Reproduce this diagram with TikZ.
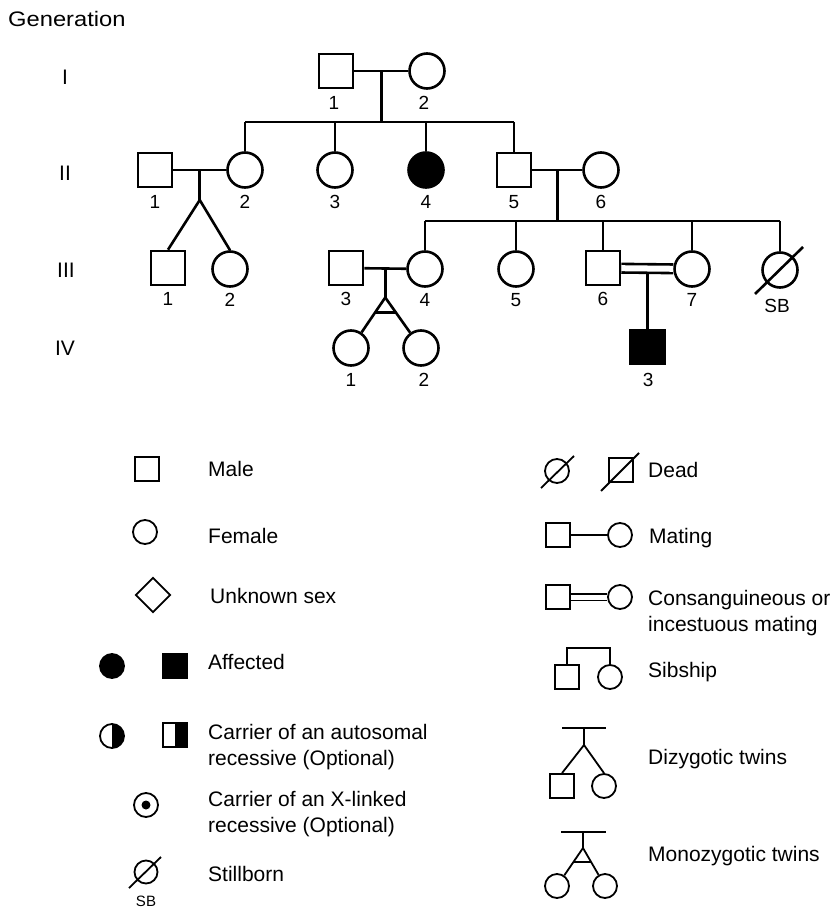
\documentclass[tikz,border=0pt]{standalone}
\usepackage{fontspec}
\setmainfont{Liberation Sans}
\newfontfamily\widefont[FakeStretch=1.13]{Liberation Sans}
\usetikzlibrary{calc,shapes.geometric}
\begin{document}
\begin{tikzpicture}[x=1pt,y=-1pt,
  ped/.style={line width=2.6pt},
  leg/.style={line width=1.8pt},
  numlab/.style={inner sep=0pt,font=\fontsize{19}{19}\selectfont},
  msq/.style={draw,rectangle,line width=2.6pt,minimum size=34pt,inner sep=0pt},
  fci/.style={draw,circle,line width=2.6pt,minimum size=35pt,inner sep=0pt},
  lsq/.style={draw,rectangle,line width=1.8pt,minimum size=24pt,inner sep=0pt},
  lci/.style={draw,circle,line width=1.8pt,minimum size=24pt,inner sep=0pt},
  halfblack/.style={path picture={\fill[black] (path picture bounding box.north) rectangle (path picture bounding box.south east);}},
  txt/.style={anchor=base west,inner sep=0pt,font=\fontsize{21}{24}\selectfont},
  gen/.style={anchor=base,inner sep=0pt,font=\fontsize{21}{24}\selectfont}]
\useasboundingbox (0,0) rectangle (835,909);
\fill[white] (0,0) rectangle (835,909);

% generation labels
\node[anchor=base west,inner sep=0pt,font=\widefont\fontsize{21}{24}\selectfont] (gentitle) at (8,27) {Generation};
\node[gen] (gI) at (65,85) {I};
\node[gen] (gII) at (65,181) {II};
\node[gen] (gIII) at (66,277) {III};
\node[gen] (gIV) at (65,355) {IV};

% generation I
\node[msq] (I1) at (336,71) {};
\node[fci] (I2) at (427,71) {};
\node[numlab] (I1n) at ($(I1)+(-2,32)$) {1};
\node[numlab] (I2n) at ($(I2)+(-3,32)$) {2};
\draw[ped] (I1) -- (I2);
\coordinate (m1) at ($(I1.east)!0.5!(I2.west)$);
\coordinate (s1) at ($(m1)+(0,51)$);

% generation II
\node[msq] (II1) at (155,170) {};
\node[fci] (II2) at (245,170) {};
\node[fci] (II3) at (335,170) {};
\node[fci,fill=black] (II4) at (426,170) {};
\node[msq] (II5) at (514,170) {};
\node[fci] (II6) at (601,170) {};
\foreach \n/\t in {II1/1,II2/2,II3/3,II4/4,II5/5,II6/6}
  \node[numlab] (\n n) at ($(\n)+(0,32)$) {\t};
\draw[ped] (m1) -- (s1);
\draw[ped] (II2.north |- s1) -- (II5.north |- s1);
\foreach \n in {II2,II3,II4,II5} \draw[ped] (\n.north |- s1) -- (\n.north);
\draw[ped] (II1) -- (II2);
\draw[ped] (II5) -- (II6);
\coordinate (m2) at ($(II1.east)!0.5!(II2.west)$);
\coordinate (a2) at ($(m2)+(0,30)$);
\coordinate (m3) at ($(II5.east)!0.5!(II6.west)$);
\coordinate (s3) at ($(m3)+(0,51)$);

% generation III
\node[msq] (III1) at (168,268) {};
\node[fci] (III2) at (230,269) {};
\node[msq] (III3) at (346,268) {};
\node[fci] (III4) at (425,269) {};
\node[fci] (III5) at (516,269) {};
\node[msq] (III6) at (603,268) {};
\node[fci] (III7) at (692,269) {};
\node[fci] (SB) at (780,270) {};
\foreach \n/\t in {III1/1,III2/2,III3/3,III4/4,III5/5,III6/6,III7/7}
  \node[numlab] (\n n) at ($(\n)+(0,31)$) {\t};
\node[numlab] (SBn) at ($(SB)+(-3,36)$) {SB};
\coordinate (sbA) at ($(SB)+(-25,24)$);
\coordinate (sbB) at ($(SB)+(23,-23)$);
\draw[ped] (sbA) -- (sbB);

\draw[ped] (m2) -- (a2);
\draw[ped] (a2) -- (III1.north);
\draw[ped] (a2) -- (III2.north);
\draw[ped] (m3) -- (s3);
\draw[ped] (III4.north |- s3) -- (SB.north |- s3);
\foreach \n in {III4,III5,III6,III7,SB} \draw[ped] (\n.north |- s3) -- (\n.north);
\draw[ped] (III3) -- (III4);
\draw[ped,double,double distance=6pt] (III6) -- (III7);
\coordinate (m4) at ($(III3.east)!0.5!(III4.west)$);
\coordinate (a4) at ($(m4)+(0,29)$);
\coordinate (m5) at ($(III6.east)!0.5!(III7.west)$);
\coordinate (m5b) at ($(m5)+(0,5.5)$);

% generation IV
\node[fci] (IV1) at (351,348) {};
\node[fci] (IV2) at (421,348) {};
\node[msq,fill=black] (IV3) at ($(m5)+(0,78.5)$) {};
\node[numlab] (IV1n) at ($(IV1)+(0,32)$) {1};
\node[numlab] (IV2n) at ($(IV2)+(3,32)$) {2};
\node[numlab] (IV3n) at ($(IV3)+(1,33)$) {3};
\draw[ped] (m4) -- (a4);
\draw[ped] (a4) -- (IV1);
\draw[ped] (a4) -- (IV2);
\draw[ped] ($(a4)!0.3!(IV1)$) -- ($(a4)!0.3!(IV2)$);
\draw[ped] (m5b) -- (IV3);

% ---------------- legend, left column
\node[lsq] (LMale) at (147,469) {};
\node[txt] (tMale) at (208,476) {Male};
\node[lci] (LFem) at (145,532) {};
\node[txt] (tFem) at (208,543) {Female};
\node[draw,diamond,line width=1.8pt,minimum size=35pt,inner sep=0pt] (LUnk) at (153,595) {};
\node[txt] (tUnk) at (210,603) {Unknown sex};
\node[lci,fill=black] (LAffC) at (112,666) {};
\node[lsq,fill=black] (LAffS) at (175,666) {};
\node[txt] (tAff) at (208,669) {Affected};
\node[lci,halfblack] (LCarC) at (112,736) {};
\node[lsq,halfblack] (LCarS) at (175,735) {};
\node[txt] (tCar1) at (208,739) {Carrier of an autosomal};
\node[txt] (tCar2) at (208,765) {recessive (Optional)};
\node[lci] (LX) at (146,805) {};
\node[circle,fill=black,minimum size=9pt,inner sep=0pt] (LXdot) at (LX) {};
\node[txt] (tX1) at (208,806) {Carrier of an X-linked};
\node[txt] (tX2) at (208,832) {recessive (Optional)};
\node[lci,minimum size=23pt] (LSB) at (146,872) {};
\node[inner sep=0pt,font=\fontsize{15}{15}\selectfont] (LSBn) at ($(LSB)+(0,29)$) {SB};
\coordinate (lsbA) at ($(LSB)+(-17,16)$);
\coordinate (lsbB) at ($(LSB)+(15,-15)$);
\draw[leg] (lsbA) -- (lsbB);
\node[txt] (tSB) at (208,881) {Stillborn};

% ---------------- legend, right column
\node[lci] (LDeadC) at (557,471) {};
\coordinate (ldA) at ($(LDeadC)+(-16,17)$);
\coordinate (ldB) at ($(LDeadC)+(17,-15)$);
\draw[leg] (ldA) -- (ldB);
\node[lsq] (LDeadS) at (621,470) {};
\coordinate (ldC) at ($(LDeadS)+(-20,21)$);
\coordinate (ldD) at ($(LDeadS)+(18,-17)$);
\draw[leg] (ldC) -- (ldD);
\node[txt] (tDead) at (648,477) {Dead};

\node[lsq] (LMatS) at (558,535) {};
\node[lci] (LMatC) at (620,535) {};
\draw[leg] (LMatS) -- (LMatC);
\node[txt] (tMat) at (649,543) {Mating};

\node[lsq] (LConS) at (558,597) {};
\node[lci] (LConC) at (620,597) {};
\draw[leg,double,double distance=5pt] (LConS) -- (LConC);
\node[txt] (tCon1) at (648,605) {Consanguineous or};
\node[txt] (tCon2) at (648,631) {incestuous mating};

\node[lsq] (LSibS) at (567,677) {};
\node[lci] (LSibC) at (610,677) {};
\coordinate (sibbar) at (0,648);
\draw[leg] (LSibS.north) -- (LSibS.north |- sibbar) -- (LSibC.north |- sibbar) -- (LSibC.north);
\node[txt] (tSib) at (648,677) {Sibship};

\coordinate (dzbar) at (584,728);
\coordinate (dza) at (584,745);
\node[lsq] (LDzS) at (562,786) {};
\node[lci] (LDzC) at (604,786) {};
\draw[leg] ($(dzbar)+(-22,0)$) -- ($(dzbar)+(22,0)$);
\draw[leg] (dzbar) -- (dza);
\draw[leg] (dza) -- (LDzS.north);
\draw[leg] (dza) -- (LDzC.north);
\node[txt] (tDz) at (648,764) {Dizygotic twins};

\coordinate (mzbar) at (583,832);
\coordinate (mza) at (583,848);
\node[lci] (LMzA) at (557,886) {};
\node[lci] (LMzB) at (605,886) {};
\draw[leg] ($(mzbar)+(-22,0)$) -- ($(mzbar)+(23,0)$);
\draw[leg] (mzbar) -- (mza);
\draw[leg] (mza) -- (LMzA);
\draw[leg] (mza) -- (LMzB);
\draw[leg] ($(mza)!0.37!(LMzA)$) -- ($(mza)!0.37!(LMzB)$);
\node[txt] (tMz) at (648,861) {Monozygotic twins};
\end{tikzpicture}
\end{document}
